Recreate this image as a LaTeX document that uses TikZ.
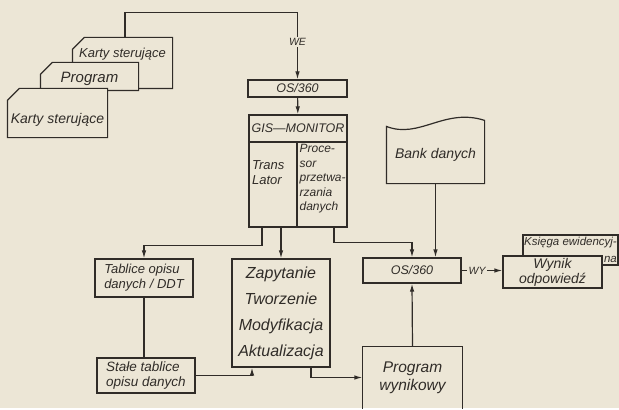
\documentclass[tikz,border=0pt]{standalone}
\usepackage{fontspec}
\setmainfont{Liberation Sans}
\usetikzlibrary{arrows.meta,calc,backgrounds}
\definecolor{paper}{RGB}{236,230,214}
\definecolor{ink}{RGB}{48,44,40}

\begin{document}
\begin{tikzpicture}[x=1pt, y=-1pt, >={Latex[length=8pt,width=4.5pt]}, line width=1.2pt, color=ink,
  fs/.style 2 args={font=\itshape\fontsize{#1}{#2}\selectfont},
  box/.style={draw, fill=paper, inner sep=0pt, align=center},
  txt/.style={inner sep=0pt, align=left},
  lbl/.style={fill=paper, inner sep=1.5pt, fs={10.5}{12}}]
  \begin{scope}[on background layer]
    \path[use as bounding box, fill=paper] (0,0) rectangle (619,408);
  \end{scope}

  % karty wejsciowe
  \node[fs={13}{15}, inner sep=0pt, minimum width=99pt, text height=20pt, text depth=30pt] (kart1) at (122.5,63) {Karty sterujące};
  \node[fs={15}{17}, inner sep=0pt, minimum width=97pt, text height=19pt, text depth=8pt] (kart2) at (89.5,76.5) {Program};
  \node[fs={14}{16}, inner sep=0pt, minimum width=99pt, text height=34pt, text depth=14pt] (kart3) at (57.5,113) {Karty sterujące};
  \begin{scope}[on background layer]
    \foreach \k in {kart1,kart2,kart3}
      \draw[draw=ink, line width=1.2pt, fill=paper] ($(\k.north west)+(0,12)$) -- ($(\k.north west)+(12,0)$) -- (\k.north east) -- (\k.south east) -- (\k.south west) -- cycle;
  \end{scope}

  % system
  \node[box, fs={12.5}{15}, minimum width=99pt, minimum height=17pt] (os1) at (297.5,88.5) {OS/360};
  \node[box, fs={12.5}{15}, minimum width=98pt, minimum height=27pt] (gishead) at (298,128.5) {GIS---MONITOR};
  \node[box, minimum width=48pt, minimum height=85pt] (trans) at (273,184.5) {};
  \node[box, minimum width=50pt, minimum height=85pt] (proc) at (322,184.5) {};
  \node[txt, fs={13}{15}, anchor=west] (ttrans) at (251.5,172.5) {Trans\\Lator};
  \node[txt, fs={12}{14.5}, anchor=west] (tproc) at (299,179) {Proce-\\sor\\przetwa-\\rzania\\danych};

  \node[box, fs={13}{15}, align=left, minimum width=98pt, minimum height=38pt] (tab) at (144,278) {Tablice opisu\\danych / DDT};
  \node[box, fs={13.5}{15}, align=left, minimum width=98pt, minimum height=35pt] (stale) at (146,375.5) {Stałe tablice\\opisu danych};
  \node[box, fs={16}{19}, minimum width=98pt, minimum height=108pt] (zap) at (281,313) {Zapytanie\\[7pt]Tworzenie\\[7pt]Modyfikacja\\[7pt]Aktualizacja};
  \node[box, fs={12.5}{15}, minimum width=98pt, minimum height=25pt] (os2) at (412,270.5) {OS/360};
  \node[fs={15.5}{18}, inner sep=0pt, align=center, minimum width=99pt, minimum height=61pt] (prog) at (412.5,377.5) {Program\\wynikowy};
  \draw (prog.south west) -- (prog.north west) -- (prog.north east) -- (prog.south east);

  % bank danych
  \node[fs={14}{16}, inner sep=0pt, minimum width=97pt, minimum height=56pt] (bank) at (435.5,155) {Bank danych};
  \draw (bank.north west) .. controls ($(bank.north west)+(33,13)$) and ($(bank.north west)+(58,-19)$) .. ($(bank.north east)+(0,-6)$) -- (bank.south east) -- (bank.south west) -- cycle;

  % wyniki
  \node[box, fs={11.5}{14}, align=right, minimum width=95pt, minimum height=30pt] (ksiega) at (570.5,250) {Księga ewidencyj-\\[3pt]na};
  \node[box, fs={14}{15}, minimum width=99pt, minimum height=32pt] (wynik) at (552.5,272) {Wynik\\odpowiedź};

  % polaczenia
  \draw[->] ([xshift=2.5pt]kart1.north) -- ++(0,-25) -| (os1.north) node[lbl, pos=0.72] {WE};
  \draw[->] (os1) -- (gishead);
  \draw[->] ([xshift=-11pt]trans.south) -- ++(0,18) -| (tab.north);
  \draw[->] (trans.south -| zap.north) -- (zap.north);
  \draw[->] ([xshift=12pt]proc.south) -- ++(0,15) -| (os2.north);
  \draw[->] (bank.south) -- (bank.south |- os2.north);
  \draw (tab.south) -- (tab.south |- stale.north);
  \draw[->] (stale.east) -| ([xshift=-29pt]zap.south);
  \draw[->] ([xshift=30pt]zap.south) |- (prog.west);
  \draw[->] (prog.north) -- (os2.south);
  \draw[->] (os2.east) -- node[lbl, pos=0.38] {WY} (os2.east -| wynik.west);
\end{tikzpicture}
\end{document}
